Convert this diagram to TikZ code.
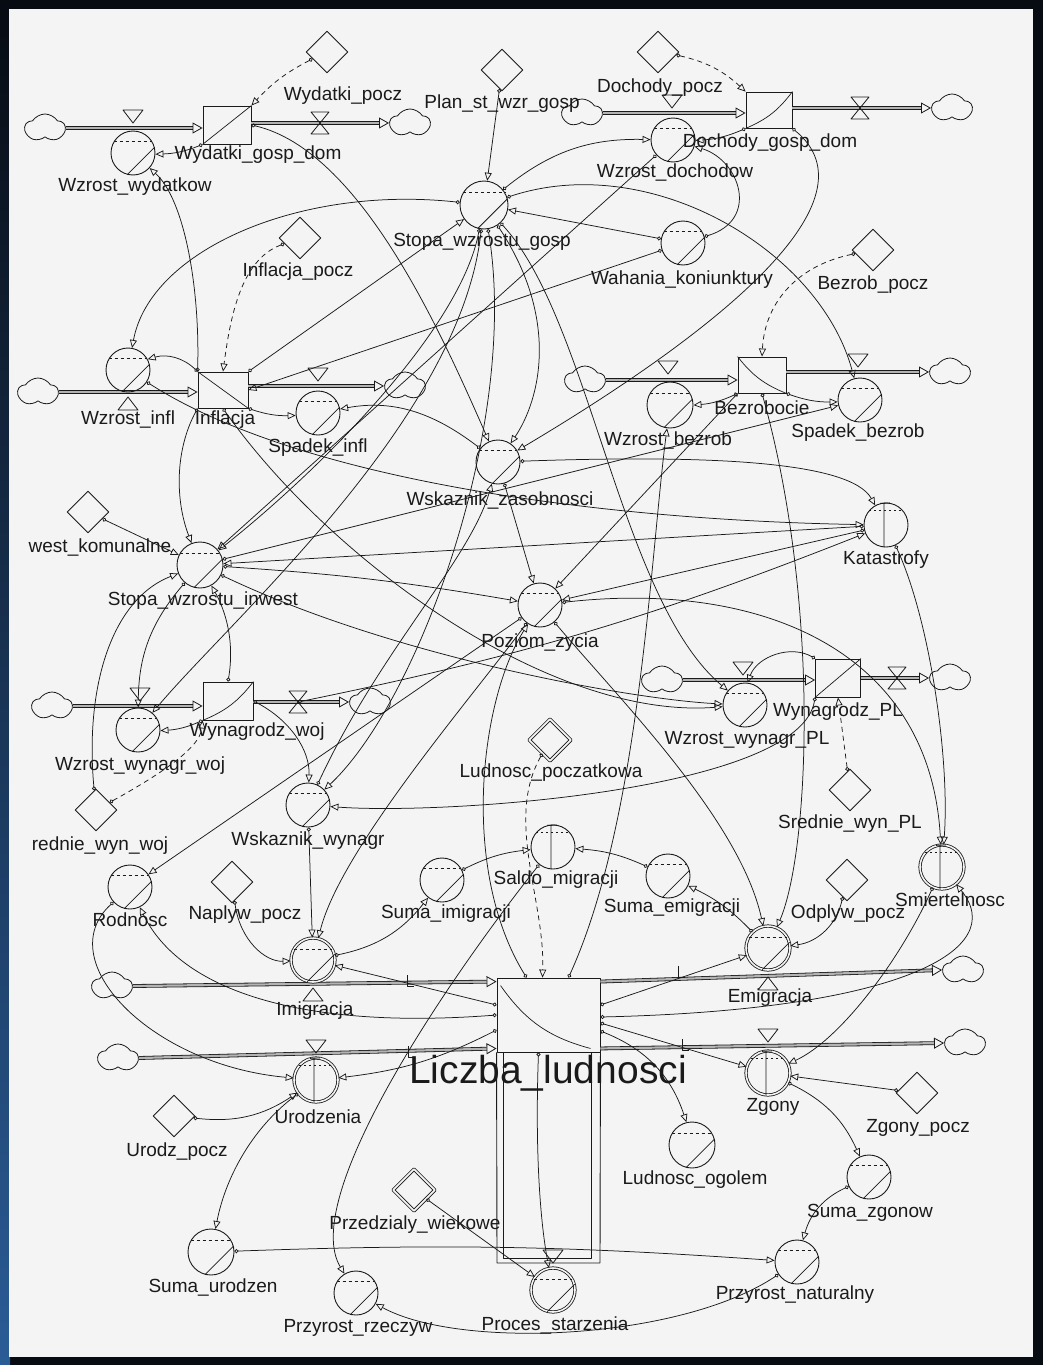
\documentclass[tikz,border=0pt]{standalone}
\usepackage{fontspec}
\setmainfont{Liberation Sans}
\usetikzlibrary{shapes.geometric,shapes.symbols,arrows.meta}
\definecolor{ink}{HTML}{1A1A1A}
\definecolor{paper}{HTML}{F4F4F4}
\definecolor{frametop}{HTML}{070B12}
\definecolor{framebot}{HTML}{2A5C96}
\tikzset{
  sdaux/.style={circle,draw=ink,line width=0.9pt,minimum size=44pt,inner sep=0pt},
  sdrate/.style={sdaux,double=paper,double distance=1.6pt,line width=0.8pt},
  sdconst/.style={diamond,draw=ink,line width=0.9pt,minimum size=42pt,inner sep=0pt},
  sdinit/.style={sdconst,double=paper,double distance=1.8pt,line width=0.8pt},
  sdstock/.style={rectangle,draw=ink,line width=0.9pt,minimum width=48pt,minimum height=38pt,inner sep=0pt},
  sdcloud/.style={cloud,cloud puffs=5,cloud puff arc=115,aspect=1.45,draw=ink,line width=0.8pt,
    minimum width=40pt,minimum height=28pt,inner sep=0pt},
  sdpipe/.style={draw=ink,line width=0.8pt,double=paper!70!ink,double distance=2.2pt,
    -{Triangle[open,length=10pt,width=11pt]}},
  sdlink/.style={draw=ink,line width=0.75pt,{Circle[open,length=4pt]}-{Triangle[open,length=8pt,width=7pt]}},
  sddash/.style={sdlink,dash pattern=on 5pt off 4pt},
  sdvalve/.style={draw=ink,line width=0.8pt},
  sdlabel/.style={font=\fontsize{19}{21}\selectfont,text=ink,inner sep=0pt},
  every picture/.style={line join=round}
}
% marks inside the auxiliaries
\newcommand{\auxmark}[1]{%
  \draw[ink,line width=0.6pt,dash pattern=on 3pt off 3pt] (#1.150) -- (#1.30);
  \draw[ink,line width=0.8pt] (#1.255) -- (#1.15);}
\newcommand{\tabmark}[1]{%
  \draw[ink,line width=0.6pt,dash pattern=on 2pt off 3pt] (#1.140) -- (#1.40);
  \draw[ink,line width=0.8pt] (#1.95) -- (#1.265) (#1.105) -- (#1.80);}
% valves on the pipes
\newcommand{\valvebow}[1]{\draw[sdvalve] (#1) ++(-9,-11) -- ++(18,0) -- ++(-18,22) -- ++(18,0) -- cycle;}
\newcommand{\valvedown}[1]{\draw[sdvalve] (#1) ++(-10,-8) -- ++(20,0) -- ++(-10,13) -- cycle;}
\newcommand{\valveup}[1]{\draw[sdvalve] (#1) ++(-10,8) -- ++(20,0) -- ++(-10,-13) -- cycle;}

\begin{document}
\begin{tikzpicture}[x=1pt,y=-1pt]
  \useasboundingbox (0,0) rectangle (1043,1365);
  \fill[frametop] (0,0) rectangle (1043,1365);
  \shade[top color=frametop,bottom color=framebot] (0,0) rectangle (10,1365);
  \fill[paper] (9,9) rectangle (1033,1357);

  % stocks
  \node[sdstock] (wydatki) at (227,125) {};
  \node[sdstock,minimum width=46pt,minimum height=36pt] (dochody) at (769,110) {};
  \node[sdstock,minimum width=50pt,minimum height=36pt] (inflacja) at (223,390) {};
  \node[sdstock,minimum height=36pt] (bezrob) at (762,375) {};
  \node[sdstock,minimum width=50pt] (wynWoj) at (228,701) {};
  \node[sdstock,minimum width=45pt] (wynPL) at (838,678) {};
  \node[sdstock,minimum width=103pt,minimum height=74pt] (liczba) at (548.5,1015) {};
  \draw[ink,line width=0.9pt] (liczba.south west) -- (497,1263) -- (600,1263) -- (liczba.south east);
  \draw[ink,line width=0.8pt] (503,1052) -- (503,1258) -- (591,1258) -- (591,1052);
  \draw[ink,line width=0.7pt] (wydatki.south west) -- (wydatki.north east);
  \draw[ink,line width=0.7pt] (dochody.south west) to[bend right=15] (dochody.north east);
  \draw[ink,line width=0.7pt] (inflacja.north west) -- (inflacja.south east);
  \draw[ink,line width=0.7pt] (bezrob.north west) to[bend right=15] (bezrob.south east);
  \draw[ink,line width=0.7pt] (wynWoj.south west) to[bend right=15] (wynWoj.north east);
  \draw[ink,line width=0.7pt] (wynPL.south west) -- (wynPL.north east);
  \draw[ink,line width=0.7pt] ([xshift=4pt,yshift=-8pt]liczba.north west) to[bend right=20] ([xshift=-10pt,yshift=4pt]liczba.south east);

  % clouds
  \node[sdcloud] (cl1) at (45,128) {};
  \node[sdcloud] (cl2) at (410,123) {};
  \node[sdcloud] (cl3) at (582,113) {};
  \node[sdcloud] (cl4) at (952,108) {};
  \node[sdcloud] (cl5) at (38,392) {};
  \node[sdcloud] (cl6) at (405,386) {};
  \node[sdcloud] (cl7) at (585,380) {};
  \node[sdcloud] (cl8) at (950,372) {};
  \node[sdcloud] (cl9) at (52,706) {};
  \node[sdcloud] (cl10) at (370,702) {};
  \node[sdcloud] (cl11) at (662,680) {};
  \node[sdcloud] (cl12) at (950,678) {};
  \node[sdcloud] (cl13) at (112,986) {};
  \node[sdcloud] (cl14) at (963,970) {};
  \node[sdcloud] (cl15) at (118,1058) {};
  \node[sdcloud] (cl16) at (965,1043) {};

  % pipes
  \draw[sdpipe] (cl1.east) -- (cl1.east -| wydatki.west);
  \draw[sdpipe] (cl2.west -| wydatki.east) -- (cl2.west);
  \draw[sdpipe] (cl3.east) -- (cl3.east -| dochody.west);
  \draw[sdpipe] (cl4.west -| dochody.east) -- (cl4.west);
  \draw[sdpipe] (cl5.east) -- (cl5.east -| inflacja.west);
  \draw[sdpipe] (cl6.west -| inflacja.east) -- (cl6.west);
  \draw[sdpipe] (cl7.east) -- (cl7.east -| bezrob.west);
  \draw[sdpipe] (cl8.west -| bezrob.east) -- (cl8.west);
  \draw[sdpipe] (cl9.east) -- (cl9.east -| wynWoj.west);
  \draw[sdpipe] (cl10.west -| wynWoj.east) -- (cl10.west);
  \draw[sdpipe] (cl11.east) -- (cl11.east -| wynPL.west);
  \draw[sdpipe] (cl12.west -| wynPL.east) -- (cl12.west);
  \draw[sdpipe] (cl13.east) -- ([yshift=-4pt]liczba.north west);
  \draw[sdpipe] ([yshift=-4pt]liczba.north east) -- (cl14.west);
  \draw[sdpipe] (cl15.east) -- ([yshift=4pt]liczba.south west);
  \draw[sdpipe] ([yshift=4pt]liczba.south east) -- (cl16.west);
  \foreach \tx/\ty in {407/983,678/974,408/1054,682/1047}
    \draw[ink,line width=0.7pt] (\tx,\ty-8) -- (\tx,\ty+3) -- (\tx+7,\ty+3);

  % valves
  \valvedown{133,118} \valvebow{320,123} \valvedown{672,103} \valvebow{860,108}
  \valveup{128,402} \valvedown{318,376} \valvedown{668,369} \valvedown{858,362}
  \valvedown{140,696} \valvebow{298,702} \valvedown{743,670} \valvebow{897,678}
  \valveup{313,993} \valveup{768,982} \valvedown{316,1048} \valvedown{768,1037}
  \valvedown{553,1258}
  \coordinate (vWynWoj) at (298,702);

  % auxiliaries
  \node[sdaux] (wzrWyd) at (133,153) {};
  \node[sdaux] (wzrDoch) at (673,140) {};
  \node[sdaux,minimum size=48pt] (stopaGosp) at (484,205) {};
  \node[sdaux] (wahania) at (683,243) {};
  \node[sdaux] (wzrInfl) at (128,370) {};
  \node[sdaux] (spadInfl) at (318,413) {};
  \node[sdaux] (wskZas) at (498,462) {};
  \node[sdaux,minimum size=46pt] (wzrBez) at (670,405) {};
  \node[sdaux] (spadBez) at (860,400) {};
  \node[sdaux] (katastr) at (886,525) {};
  \node[sdaux,minimum size=46pt] (stopaInw) at (200,565) {};
  \node[sdaux] (poziom) at (540,605) {};
  \node[sdaux] (wzrWynWoj) at (138,730) {};
  \node[sdaux] (wzrWynPL) at (745,705) {};
  \node[sdaux] (wskWyn) at (308,805) {};
  \node[sdaux] (rodnosc) at (130,887) {};
  \node[sdaux] (sumaImi) at (442,880) {};
  \node[sdaux] (saldo) at (553,847) {};
  \node[sdaux] (sumaEmi) at (668,876) {};
  \node[sdrate] (smiert) at (942,867) {};
  \node[sdrate] (imigr) at (313,960) {};
  \node[sdrate] (emigr) at (768,948) {};
  \node[sdrate] (urodz) at (316,1080) {};
  \node[sdrate] (zgony) at (768,1073) {};
  \node[sdaux,minimum size=46pt] (ludOg) at (692,1145) {};
  \node[sdaux] (sumaZg) at (869,1177) {};
  \node[sdaux] (przNat) at (797,1262) {};
  \node[sdaux,minimum size=46pt] (sumaUr) at (211,1252) {};
  \node[sdaux] (przRz) at (356,1293) {};
  \node[sdrate] (proces) at (553,1290) {};
  \foreach \n in {wzrWyd,wzrDoch,stopaGosp,wahania,wzrInfl,spadInfl,wskZas,wzrBez,spadBez,
    stopaInw,poziom,wzrWynWoj,wzrWynPL,wskWyn,rodnosc,sumaImi,sumaEmi,imigr,emigr,
    ludOg,sumaZg,przNat,sumaUr,przRz,proces}
    \auxmark{\n};
  \foreach \n in {katastr,saldo,smiert,urodz,zgony}
    \tabmark{\n};

  % constants
  \node[sdconst] (wydPocz) at (327,52) {};
  \node[sdconst] (planSt) at (502,70) {};
  \node[sdconst] (dochPocz) at (658,52) {};
  \node[sdconst] (inflPocz) at (300,238) {};
  \node[sdconst] (bezPocz) at (873,250) {};
  \node[sdconst] (westKom) at (88,512) {};
  \node[sdconst] (redWoj) at (96,810) {};
  \node[sdconst] (napPocz) at (232,882) {};
  \node[sdinit] (ludPocz) at (550,740) {};
  \node[sdconst] (sredPL) at (850,790) {};
  \node[sdconst] (odpPocz) at (847,880) {};
  \node[sdconst] (urPocz) at (174,1116) {};
  \node[sdconst] (zgPocz) at (917,1093) {};
  \node[sdinit] (przedz) at (414,1190) {};

  % connectors, upper part
  \draw[sddash] (wydPocz) to[bend right=10] (wydatki.north east);
  \draw[sddash] (dochPocz) to[bend left=15] (dochody.north west);
  \draw[sdlink] (planSt) -- (stopaGosp);
  \draw[sdlink] (wydatki.south west) to[bend left=10] (wzrWyd);
  \draw[sdlink] (dochody.south west) to[bend left=10] (wzrDoch);
  \draw[sdlink] (inflacja.north west) .. controls (200,290) and (185,200) .. (wzrWyd);
  \draw[sdlink] (stopaGosp) .. controls (300,185) and (150,250) .. (wzrInfl);
  \draw[sdlink] (wydatki.east) .. controls (360,150) and (440,330) .. (wskZas);
  \draw[sdlink] (inflacja.north east) -- (stopaGosp);
  \draw[sdlink] (stopaGosp) to[bend left=20] (wzrDoch);
  \draw[sdlink] (wzrDoch) -- (stopaInw);
  \draw[sdlink] (dochody.south east) .. controls (880,200) and (720,330) .. (wskZas);
  \draw[sdlink] (wahania) -- (stopaGosp);
  \draw[sdlink] (wahania) .. controls (760,220) and (740,160) .. (wzrDoch);
  \draw[sdlink] (stopaGosp) .. controls (650,150) and (820,250) .. (spadBez);
  \draw[sdlink] (wahania) -- (inflacja.east);
  \draw[sdlink] (inflacja.south west) .. controls (175,450) and (175,500) .. (stopaInw);
  \draw[sdlink] (stopaGosp) .. controls (460,330) and (320,470) .. (stopaInw);
  \draw[sdlink] (stopaGosp) .. controls (560,320) and (540,400) .. (wskZas);
  \draw[sdlink] (stopaGosp) .. controls (590,320) and (620,600) .. (wzrWynPL);
  \draw[sdlink] (stopaGosp) .. controls (460,420) and (230,620) .. (wzrWynWoj);
  \draw[sdlink] (stopaGosp) .. controls (520,420) and (420,700) .. (wskWyn);
  \draw[sdlink] (wskZas) .. controls (430,410) and (390,400) .. (spadInfl);
  \draw[sdlink] (inflacja.south east) to[bend right=10] (spadInfl);
  \draw[sdlink] (inflacja.north west) to[bend right=30] (wzrInfl);
  \draw[sddash] (bezPocz) .. controls (800,265) and (765,300) .. (bezrob.north);
  \draw[sddash] (inflPocz) .. controls (240,260) and (230,320) .. (inflacja.north);
  \draw[sdlink] (bezrob.south west) to[bend left=10] (wzrBez);
  \draw[sdlink] (bezrob.south east) to[bend right=10] (spadBez);

  % connectors, middle part
  \draw[sdlink] (wskZas) .. controls (700,455) and (850,460) .. (katastr);
  \draw[sdlink] (wskZas) -- (poziom);
  \draw[sdlink] (stopaInw) to[bend left=3] (poziom);
  \draw[sdlink] (katastr) -- (stopaInw);
  \draw[sdlink] (wzrInfl) .. controls (300,480) and (600,520) .. (katastr);
  \draw[sdlink] (katastr) -- (poziom);
  \draw[sdlink] (vWynWoj) to[bend right=5] (katastr);
  \draw[sdlink] (katastr) .. controls (930,620) and (950,760) .. (smiert);
  \draw[sdlink] (poziom) .. controls (760,580) and (930,650) .. (smiert);
  \draw[sdlink] (bezrob.south west) -- (poziom);
  \draw[sdlink] (stopaInw) -- (spadBez);
  \draw[sdlink] (poziom) .. controls (620,700) and (740,820) .. (emigr);
  \draw[sdlink] (poziom) .. controls (470,700) and (340,850) .. (imigr);
  \draw[sdlink] ([xshift=-22pt]liczba.north) .. controls (460,870) and (480,700) .. (poziom);
  \draw[sdlink] ([xshift=20pt]liczba.north) .. controls (640,820) and (650,560) .. (wzrBez);
  \draw[sdlink] (bezrob.south) .. controls (820,600) and (810,850) .. (emigr);
  \draw[sdlink] (stopaInw) .. controls (400,660) and (640,700) .. (wzrWynPL);
  \draw[sdlink] (inflacja.south) .. controls (330,560) and (550,720) .. (wzrWynPL);
  \draw[sdlink] (wynPL.north west) to[bend right=50] (wzrWynPL);
  \draw[sdlink] (stopaInw) to[bend right=20] (wzrWynWoj);
  \draw[sdlink] (wynWoj.north) .. controls (235,640) and (225,610) .. (stopaInw);
  \draw[sdlink] (wynWoj.south west) to[bend left=10] (wzrWynWoj);
  \draw[sdlink] (redWoj) .. controls (85,690) and (110,600) .. (stopaInw);
  \draw[sdlink] (westKom) -- (stopaInw);
  \draw[sddash] (redWoj) .. controls (150,780) and (200,750) .. (wynWoj.south west);
  \draw[sddash] (sredPL) -- (wynPL.south);
  \draw[sdlink] (wynPL.south west) .. controls (800,790) and (450,815) .. (wskWyn);
  \draw[sdlink] (wynWoj.east) .. controls (290,720) and (310,750) .. (wskWyn);
  \draw[sdlink] (wskWyn) .. controls (380,650) and (470,560) .. (wskZas);

  % connectors, lower part
  \draw[sdlink] (wskWyn) -- (imigr);
  \draw[sdlink] (napPocz) .. controls (240,940) and (265,962) .. (imigr);
  \draw[sdlink] (imigr) to[bend right=20] (sumaImi);
  \draw[sdlink] (sumaImi) to[bend left=10] (saldo);
  \draw[sdlink] (sumaEmi) to[bend right=10] (saldo);
  \draw[sdlink] (emigr) to[bend right=10] (sumaEmi);
  \draw[sdlink] (odpPocz) to[bend left=35] (emigr);
  \draw[sddash] (ludPocz) .. controls (505,820) and (545,900) .. ([xshift=-6pt]liczba.north);
  \draw[sdlink] (saldo) .. controls (440,990) and (300,1200) .. (przRz);
  \draw[sdlink] (poziom) -- (rodnosc);
  \draw[sdlink] (rodnosc) .. controls (50,960) and (150,1065) .. (urodz);
  \draw[sdlink] (liczba.west) .. controls (300,1030) and (180,990) .. (rodnosc);
  \draw[sdlink] ([yshift=10pt]liczba.west) -- (imigr);
  \draw[sdlink] ([yshift=-15pt]liczba.west) to[bend left=10] (urodz);
  \draw[sdlink] (urPocz) to[bend right=20] (urodz);
  \draw[sdlink] (urodz) .. controls (250,1130) and (225,1180) .. (sumaUr);
  \draw[sdlink] (sumaUr) to[bend left=3] (przNat);
  \draw[sdlink] (zgony) to[bend left=20] (sumaZg);
  \draw[sdlink] (sumaZg) to[bend right=25] (przNat);
  \draw[sdlink] (zgPocz) -- (zgony);
  \draw[sdlink] (smiert) .. controls (900,960) and (840,1040) .. (zgony);
  \draw[sdlink] ([yshift=-2pt]liczba.east) .. controls (900,1010) and (1010,950) .. (smiert);
  \draw[sdlink] ([yshift=10pt]liczba.east) -- (emigr);
  \draw[sdlink] ([yshift=-8pt]liczba.east) -- (zgony);
  \draw[sdlink] ([yshift=-16pt]liczba.east) to[bend left=25] (ludOg);
  \draw[sdlink] ([xshift=-10pt]liczba.south) .. controls (535,1150) and (540,1220) .. (proces);
  \draw[sdlink] (przedz) -- (proces);
  \draw[sdlink] (przNat) .. controls (680,1340) and (460,1350) .. (przRz);

  % labels
  \node[sdlabel] (tWzrWyd) at (135,187) {Wzrost\_wydatkow};
  \node[sdlabel] (tWyd) at (258,155) {Wydatki\_gosp\_dom};
  \node[sdlabel] (tWydPocz) at (343,96) {Wydatki\_pocz};
  \node[sdlabel] (tPlan) at (502,104) {Plan\_st\_wzr\_gosp};
  \node[sdlabel] (tDochPocz) at (660,88) {Dochody\_pocz};
  \node[sdlabel] (tDoch) at (770,143) {Dochody\_gosp\_dom};
  \node[sdlabel] (tWzrDoch) at (675,173) {Wzrost\_dochodow};
  \node[sdlabel] (tStopaGosp) at (482,242) {Stopa\_wzrostu\_gosp};
  \node[sdlabel] (tInflPocz) at (298,272) {Inflacja\_pocz};
  \node[sdlabel] (tWahania) at (682,280) {Wahania\_koniunktury};
  \node[sdlabel] (tBezPocz) at (873,285) {Bezrob\_pocz};
  \node[sdlabel] (tWzrInfl) at (128,419) {Wzrost\_infl};
  \node[sdlabel] (tInfl) at (225,420) {Inflacja};
  \node[sdlabel] (tSpadInfl) at (318,448) {Spadek\_infl};
  \node[sdlabel] (tWskZas) at (500,500) {Wskaznik\_zasobnosci};
  \node[sdlabel] (tWzrBez) at (668,440) {Wzrost\_bezrob};
  \node[sdlabel] (tBez) at (762,408) {Bezrobocie};
  \node[sdlabel] (tSpadBez) at (858,433) {Spadek\_bezrob};
  \node[sdlabel] (tKat) at (886,560) {Katastrofy};
  \node[sdlabel] (tWest) at (100,547) {west\_komunalne};
  \node[sdlabel] (tStopaInw) at (203,601) {Stopa\_wzrostu\_inwest};
  \node[sdlabel] (tPoziom) at (540,643) {Poziom\_zycia};
  \node[sdlabel] (tWynWoj) at (257,732) {Wynagrodz\_woj};
  \node[sdlabel] (tWzrWynWoj) at (140,766) {Wzrost\_wynagr\_woj};
  \node[sdlabel] (tWzrWynPL) at (747,740) {Wzrost\_wynagr\_PL};
  \node[sdlabel] (tWynPL) at (838,712) {Wynagrodz\_PL};
  \node[sdlabel] (tLudPocz) at (551,773) {Ludnosc\_poczatkowa};
  \node[sdlabel] (tRedWoj) at (100,846) {rednie\_wyn\_woj};
  \node[sdlabel] (tWskWyn) at (308,841) {Wskaznik\_wynagr};
  \node[sdlabel] (tSredPL) at (850,824) {Srednie\_wyn\_PL};
  \node[sdlabel] (tRod) at (130,920) {Rodnosc};
  \node[sdlabel] (tNap) at (245,915) {Naplyw\_pocz};
  \node[sdlabel] (tSaldo) at (556,880) {Saldo\_migracji};
  \node[sdlabel] (tSumaImi) at (446,914) {Suma\_imigracji};
  \node[sdlabel] (tSumaEmi) at (672,908) {Suma\_emigracji};
  \node[sdlabel] (tOdp) at (848,914) {Odplyw\_pocz};
  \node[sdlabel] (tSmiert) at (950,900) {Smiertelnosc};
  \node[sdlabel] (tImigr) at (315,1011) {Imigracja};
  \node[sdlabel] (tEmigr) at (770,998) {Emigracja};
  \node[sdlabel,font=\fontsize{39}{42}\selectfont] (tLiczba) at (548,1073) {Liczba\_ludnosci};
  \node[sdlabel] (tUrodz) at (318,1117) {Urodzenia};
  \node[sdlabel] (tZgony) at (773,1107) {Zgony};
  \node[sdlabel] (tUrPocz) at (177,1152) {Urodz\_pocz};
  \node[sdlabel] (tZgPocz) at (918,1128) {Zgony\_pocz};
  \node[sdlabel] (tLudOg) at (695,1180) {Ludnosc\_ogolem};
  \node[sdlabel] (tSumaZg) at (870,1213) {Suma\_zgonow};
  \node[sdlabel] (tPrzedz) at (415,1225) {Przedzialy\_wiekowe};
  \node[sdlabel] (tSumaUr) at (213,1287) {Suma\_urodzen};
  \node[sdlabel] (tPrzNat) at (795,1295) {Przyrost\_naturalny};
  \node[sdlabel] (tPrzRz) at (358,1328) {Przyrost\_rzeczyw};
  \node[sdlabel] (tProces) at (555,1325) {Proces\_starzenia};
\end{tikzpicture}
\end{document}
